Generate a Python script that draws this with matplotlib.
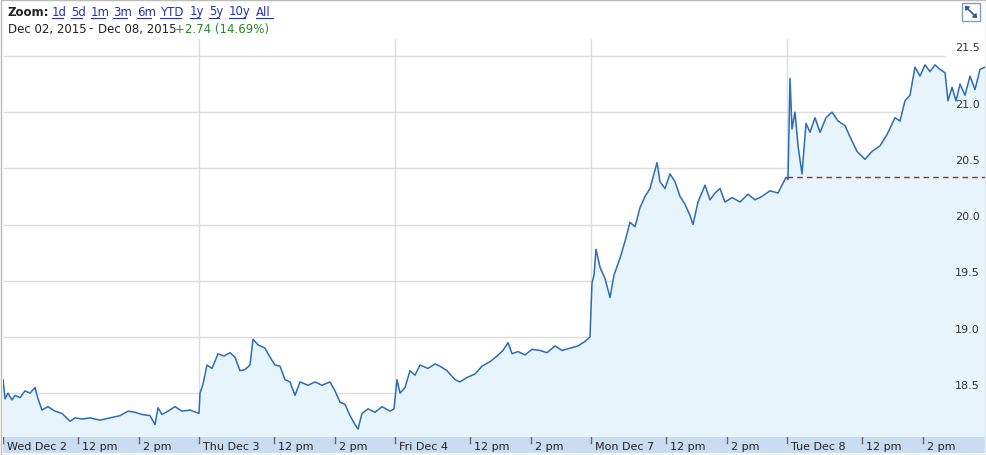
import matplotlib
matplotlib.use("Agg")
import matplotlib.pyplot as plt
from matplotlib.lines import Line2D
import numpy as np

# pixel-derived sample positions (in trading days since Dec 2 open) and prices
px = [3,5,8,12,15,20,25,30,35,38,42,48,55,62,70,75,82,90,100,110,120,128,135,142,150,155,158,162,168,175,182,190,199,
      200,203,207,212,218,224,230,235,240,245,250,253,258,265,270,275,280,285,290,295,300,308,315,322,330,335,340,345,350,355,358,362,368,375,382,390,394,
      397,400,405,410,415,420,428,435,440,447,455,460,467,475,482,490,497,503,508,512,518,525,532,540,547,555,562,570,578,585,590,
      592,594,596,600,605,610,614,620,625,630,635,640,645,650,654,657,660,665,670,675,680,685,690,693,698,705,710,715,720,725,732,740,748,755,762,770,778,786,
      788,790,792,795,798,802,806,810,815,820,826,832,838,845,850,857,865,872,880,887,895,900,905,910,915,920,925,930,935,940,945,948,952,956,960,965,970,975,980,985]
prices = [18.62,18.45,18.50,18.44,18.48,18.46,18.52,18.50,18.55,18.45,18.35,18.38,18.34,18.32,18.25,18.28,18.27,18.28,18.26,18.28,18.30,18.34,18.33,18.31,18.30,18.22,18.37,18.31,18.34,18.38,18.34,18.35,18.32,
          18.50,18.58,18.75,18.72,18.85,18.83,18.86,18.82,18.70,18.71,18.75,18.98,18.93,18.90,18.82,18.75,18.74,18.62,18.60,18.48,18.60,18.57,18.60,18.57,18.60,18.52,18.42,18.40,18.30,18.22,18.18,18.32,18.36,18.33,18.38,18.34,18.36,
          18.62,18.50,18.55,18.70,18.66,18.75,18.72,18.76,18.74,18.70,18.62,18.60,18.64,18.67,18.74,18.78,18.83,18.88,18.95,18.85,18.87,18.84,18.89,18.88,18.86,18.92,18.88,18.90,18.92,18.96,19.00,
          19.48,19.55,19.78,19.62,19.52,19.35,19.55,19.70,19.85,20.02,19.98,20.15,20.25,20.32,20.45,20.55,20.38,20.32,20.45,20.38,20.25,20.18,20.08,20.00,20.20,20.35,20.22,20.28,20.32,20.20,20.24,20.20,20.27,20.22,20.25,20.30,20.28,20.42,
          20.40,21.30,20.85,21.00,20.70,20.45,20.90,20.82,20.95,20.82,20.95,21.00,20.92,20.88,20.78,20.65,20.58,20.65,20.70,20.80,20.95,20.92,21.10,21.15,21.40,21.32,21.42,21.36,21.42,21.38,21.35,21.10,21.22,21.10,21.25,21.15,21.32,21.20,21.38,21.40]
times = [(p - 3) / 196 for p in px]
prev_close = 20.42
day_labels = ["Wed Dec 2", "Thu Dec 3", "Fri Dec 4", "Mon Dec 7", "Tue Dec 8"]
yticks = [18.5, 19.0, 19.5, 20.0, 20.5, 21.0, 21.5]

W, H = 986, 456
fig = plt.figure(figsize=(W/100, H/100), dpi=100)
fig.patch.set_facecolor("white")
x0 = 3
ax = fig.add_axes([x0/W, (H-438)/H, (985-x0)/W, (438-40)/H])
ax.set_xlim(0, (985-x0)/196)
ax.set_ylim(18.11, 21.65)
ax.fill_between(times, prices, 18.11, color="#e8f4fc", zorder=1)
ax.plot(times, prices, color="#2d6db5", lw=1.1, zorder=3)
ax.hlines(prev_close, (787-x0)/196, (985-x0)/196, colors="#b0202a", linestyles=(0, (4, 3)), lw=1, zorder=4)
gx_end = (945-x0)/196
for y in yticks:
    ax.hlines(y, 0, gx_end, color="#dddddd", lw=1, zorder=0)
    ax.text((980-x0)/196, y + 0.03, f"{y:.1f}", ha="right", va="bottom", fontsize=8, color="#333333", zorder=5)
for d in range(1, 5):
    ax.axvline(d, color="#dddddd", lw=1, zorder=0)
ax.set_xticks([]); ax.set_yticks([])
for s in ax.spines.values():
    s.set_visible(False)

bx = fig.add_axes([x0/W, (H-454)/H, (985-x0)/W, 16/H])
bx.set_xlim(ax.get_xlim()); bx.set_ylim(0, 1)
bx.set_facecolor("#c9dcf2")
bx.set_xticks([]); bx.set_yticks([])
for s in bx.spines.values():
    s.set_visible(False)
for d, lab in enumerate(day_labels):
    bx.axvline(d, ymin=0.6, ymax=1, color="#666666", lw=1)
    bx.text(d + 0.02, 0.45, lab, fontsize=8, va="center", color="#222222")
    for frac, tl in [(150/390, "12 pm"), (270/390, "2 pm")]:
        bx.axvline(d + frac, ymin=0.6, ymax=1, color="#666666", lw=1)
        bx.text(d + frac + 0.02, 0.45, tl, fontsize=8, va="center", color="#222222")

fig.text(7/W, 1-12/H, "Zoom:", fontsize=8.5, fontweight="bold", va="center", color="#222222")
links = ["1d", "5d", "1m", "3m", "6m", "YTD", "1y", "5y", "10y", "All"]
lx = [52, 71, 91, 113, 137, 160, 190, 209, 229, 256]
for l, xx in zip(links, lx):
    t = fig.text(xx/W, 1-12/H, l, fontsize=8.5, va="center", color="#2233bb")
    t.set_fontproperties(t.get_fontproperties())
lw_ = [11, 11, 14, 14, 14, 21, 10, 10, 16, 17]
for xx, w in zip(lx, lw_):
    fig.add_artist(Line2D([xx/W, (xx+w)/W], [1-19/H, 1-19/H], color="#2233bb", lw=0.8))
fig.text(8/W, 1-29/H, "Dec 02, 2015", fontsize=8.5, va="center", color="#222222")
fig.text(88/W, 1-29/H, "-", fontsize=8.5, va="center", color="#222222")
fig.text(98/W, 1-29/H, "Dec 08, 2015", fontsize=8.5, va="center", color="#222222")
fig.text(175/W, 1-29/H, "+2.74 (14.69%)", fontsize=8.5, va="center", color="#2a8a2a")
fig.patches.append(plt.Rectangle((0.5/W, 0.5/H), 1-1/W, 1-1/H, transform=fig.transFigure, fill=False, ec="#bbbbbb", lw=1))
fig.patches.append(plt.Rectangle((962/W, 1-22/H), 18/W, 18/H, transform=fig.transFigure, fill=False, ec="#8899bb", lw=1))
fig.add_artist(Line2D([966/W, 976/W], [1-8/H, 1-18/H], color="#335599", lw=1.2))
fig.add_artist(Line2D([966/W, 969/W, 966/W, 966/W], [1-8/H, 1-8/H, 1-11/H, 1-8/H], color="#335599", lw=1.2))
fig.add_artist(Line2D([976/W, 973/W, 976/W, 976/W], [1-18/H, 1-18/H, 1-15/H, 1-18/H], color="#335599", lw=1.2))
fig.savefig("out.png", dpi=100)
